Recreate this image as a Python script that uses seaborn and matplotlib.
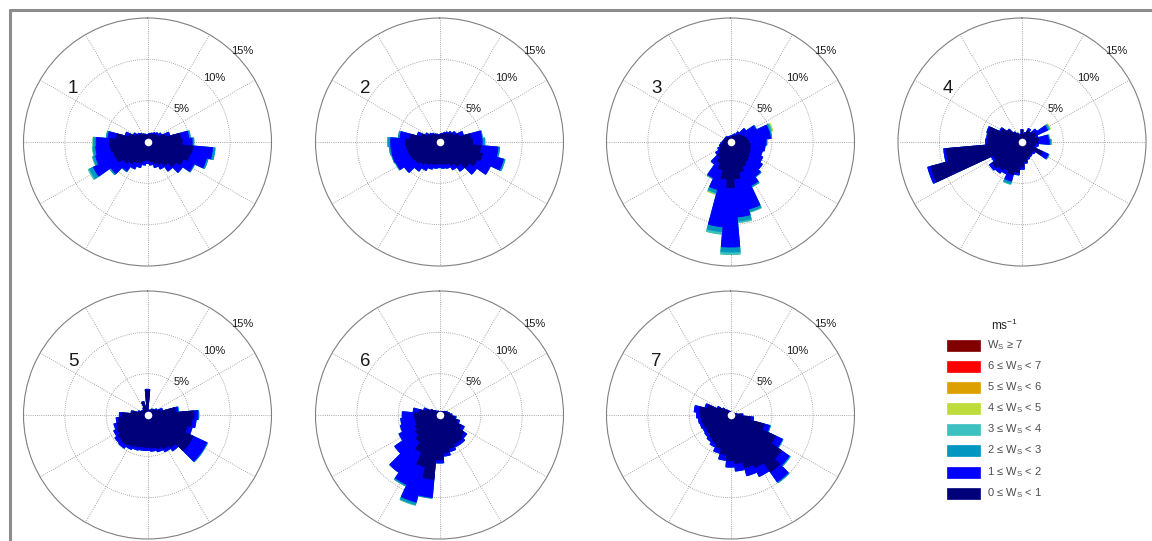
import numpy as np
import matplotlib
matplotlib.use("Agg")
import matplotlib.pyplot as plt
from matplotlib.patches import Rectangle
from matplotlib.lines import Line2D
import seaborn as sns

# ---- data: frequency (%) per 10-degree direction sector, by wind-speed class ----
DIRECTIONS = [0, 10, 20, 30, 40, 50, 60, 70, 80, 90, 100, 110, 120, 130, 140, 150, 160, 170,
              180, 190, 200, 210, 220, 230, 240, 250, 260, 270, 280, 290, 300, 310, 320, 330, 340, 350]

SITE_LABELS = ["1", "2", "3", "4", "5", "6", "7"]

# site 1
S1_B0 = [0.8, 0.9, 1.0, 1.0, 1.2, 1.3, 1.5, 2.2, 4.0, 4.2, 5.5, 5.3, 4.8, 4.2, 3.5, 3.0, 2.7, 2.4,
         2.2, 2.3, 2.6, 2.8, 3.2, 3.6, 4.2, 4.3, 4.5, 4.6, 3.8, 2.3, 1.6, 1.3, 1.1, 1.0, 0.9, 0.8]
S1_B1 = [0.1, 0.1, 0.1, 0.2, 0.2, 0.3, 0.4, 0.6, 1.0, 1.2, 2.4, 2.1, 1.4, 1.0, 0.8, 0.6, 0.5, 0.4,
         0.4, 0.5, 0.6, 0.8, 1.1, 1.8, 3.0, 2.2, 1.8, 1.6, 1.0, 0.5, 0.3, 0.2, 0.2, 0.1, 0.1, 0.1]
S1_B2 = {80: 0.2, 90: 0.2, 100: 0.3, 110: 0.2, 120: 0.1, 220: 0.1, 230: 0.2, 240: 0.5,
         250: 0.3, 260: 0.3, 270: 0.3, 280: 0.2}
S1_B3 = {240: 0.2, 250: 0.1, 260: 0.1, 270: 0.1}
S1_B4 = {}

# site 2
S2_B0 = [0.8, 0.9, 1.0, 1.1, 1.3, 1.5, 1.8, 2.4, 3.8, 4.0, 5.0, 5.4, 5.0, 4.4, 3.6, 3.1, 2.8, 2.7,
         2.6, 2.7, 2.8, 3.0, 3.3, 3.6, 3.8, 3.9, 4.0, 4.1, 3.6, 2.3, 1.6, 1.3, 1.1, 1.0, 0.9, 0.8]
S2_B1 = [0.1, 0.1, 0.1, 0.2, 0.2, 0.3, 0.4, 0.6, 1.3, 1.15, 2.1, 2.6, 1.8, 1.1, 0.7, 0.6, 0.5, 0.5,
         0.5, 0.5, 0.6, 0.8, 1.0, 1.6, 2.0, 2.0, 1.9, 1.8, 1.2, 0.5, 0.3, 0.2, 0.2, 0.1, 0.1, 0.1]
S2_B2 = {80: 0.1, 90: 0.3, 100: 0.2, 110: 0.2, 240: 0.1, 250: 0.1, 260: 0.2, 270: 0.3, 280: 0.2}
S2_B3 = {90: 0.05, 270: 0.1}
S2_B4 = {}

# site 3
S3_B0 = [0.6, 0.6, 0.7, 0.8, 1.0, 1.3, 1.5, 1.8, 2.0, 2.2, 2.4, 2.5, 2.6, 2.8, 3.0, 3.3, 3.8, 4.5,
         5.5, 4.5, 3.5, 2.8, 2.2, 1.7, 1.4, 1.2, 1.0, 0.9, 0.8, 0.7, 0.7, 0.7, 0.7, 0.6, 0.6, 0.6]
S3_B1 = [0.1, 0.2, 0.2, 0.3, 0.5, 1.0, 1.9, 3.0, 2.85, 2.1, 1.8, 1.5, 1.7, 1.9, 2.1, 2.5, 4.6, 4.6,
         7.2, 5.8, 2.45, 2.0, 1.1, 0.5, 0.3, 0.2, 0.2, 0.1, 0.1, 0.1, 0.1, 0.1, 0.1, 0.1, 0.1, 0.1]
S3_B2 = {60: 0.1, 70: 0.2, 80: 0.15, 90: 0.1, 140: 0.1, 150: 0.2, 160: 0.3, 170: 0.5,
         180: 0.6, 190: 0.6, 200: 0.4, 210: 0.1}
S3_B3 = {70: 0.15, 160: 0.1, 170: 0.2, 180: 0.3, 190: 0.3, 200: 0.15}
S3_B4 = {70: 0.15, 200: 0.1}

# site 4
S4_B0 = [1.4, 0.9, 1.1, 1.5, 1.3, 1.7, 1.9, 1.6, 2.0, 1.9, 1.6, 1.5, 2.7, 1.7, 1.7, 1.8, 2.0, 2.4,
         3.0, 3.7, 4.1, 3.8, 4.1, 4.4, 3.8, 11.4, 9.2, 4.2, 4.1, 4.2, 2.8, 2.1, 1.4, 1.1, 0.8, 0.9]
S4_B1 = [0.1, 0.1, 0.1, 0.3, 0.2, 0.5, 1.5, 0.4, 1.2, 1.4, 0.4, 0.3, 0.8, 0.3, 0.2, 0.2, 0.2, 0.2,
         0.3, 0.3, 0.8, 0.5, 0.5, 0.4, 0.3, 0.4, 0.3, 0.2, 0.2, 0.2, 0.2, 0.1, 0.1, 0.1, 0.1, 0.1]
S4_B2 = {60: 0.2, 80: 0.1, 90: 0.2, 120: 0.1, 200: 0.3}
S4_B3 = {60: 0.1, 200: 0.1}
S4_B4 = {60: 0.1, 80: 0.1, 90: 0.1}

# site 5
S5_B0 = [3.0, 0.5, 0.5, 0.6, 0.8, 0.9, 1.1, 1.6, 3.4, 5.6, 5.4, 5.0, 6.1, 6.1, 4.8, 4.5, 4.2, 4.0,
         3.9, 3.9, 4.0, 4.2, 4.4, 4.3, 4.0, 3.8, 3.5, 3.1, 1.8, 1.1, 0.8, 0.7, 0.7, 0.9, 1.6, 0.7]
S5_B1 = [0.1, 0.1, 0.1, 0.1, 0.1, 0.1, 0.2, 0.3, 0.3, 0.5, 0.5, 0.6, 1.8, 1.8, 0.5, 0.4, 0.4, 0.4,
         0.4, 0.4, 0.4, 0.4, 0.5, 0.5, 0.5, 0.4, 0.3, 0.3, 0.2, 0.1, 0.1, 0.1, 0.1, 0.1, 0.1, 0.1]
S5_B2 = {80: 0.1, 90: 0.1, 120: 0.1, 130: 0.1}
S5_B3 = {}
S5_B4 = {}

# site 6
S6_B0 = [0.4, 0.4, 0.4, 0.4, 0.5, 0.6, 0.7, 0.9, 1.1, 1.3, 1.8, 2.2, 2.9, 3.6, 3.9, 3.9, 4.2, 4.6,
         5.4, 7.8, 6.5, 5.0, 4.0, 3.5, 3.2, 3.0, 3.0, 3.0, 2.5, 1.7, 1.1, 0.7, 0.5, 0.4, 0.4, 0.4]
S6_B1 = [0.0, 0.0, 0.0, 0.0, 0.0, 0.0, 0.1, 0.1, 0.1, 0.2, 0.2, 0.3, 0.4, 0.4, 0.4, 0.4, 0.4, 0.4,
         0.4, 2.2, 4.4, 4.3, 4.5, 3.1, 2.2, 1.9, 1.7, 1.5, 0.7, 0.3, 0.1, 0.1, 0.1, 0.1, 0.1, 0.0]
S6_B2 = {190: 0.1, 200: 0.3, 210: 0.2}
S6_B3 = {200: 0.1}
S6_B4 = {}

# site 7
S7_B0 = [0.4, 0.3, 0.3, 0.3, 0.3, 0.3, 0.4, 0.5, 0.7, 1.3, 2.4, 4.2, 6.0, 7.5, 8.4, 7.0, 6.6, 5.9,
         5.5, 4.8, 4.2, 3.8, 3.6, 3.4, 3.3, 3.4, 3.5, 3.6, 3.8, 2.9, 1.6, 1.1, 0.7, 0.5, 0.4, 0.4]
S7_B1 = [0.0, 0.0, 0.0, 0.0, 0.0, 0.0, 0.0, 0.0, 0.1, 0.2, 0.4, 0.7, 0.9, 1.15, 1.45, 1.2, 1.0, 0.9,
         0.8, 0.7, 0.6, 0.5, 0.4, 0.4, 0.4, 0.4, 0.4, 0.5, 0.6, 0.3, 0.2, 0.1, 0.1, 0.1, 0.1, 0.0]
S7_B2 = {110: 0.1, 120: 0.1, 130: 0.15, 140: 0.15}
S7_B3 = {}
S7_B4 = {}

SPEED_LABELS = [r"0 ≤ W$_\mathregular{S}$ < 1", r"1 ≤ W$_\mathregular{S}$ < 2",
                r"2 ≤ W$_\mathregular{S}$ < 3", r"3 ≤ W$_\mathregular{S}$ < 4",
                r"4 ≤ W$_\mathregular{S}$ < 5", r"5 ≤ W$_\mathregular{S}$ < 6",
                r"6 ≤ W$_\mathregular{S}$ < 7", r"W$_\mathregular{S}$ ≥ 7"]
SPEED_COLORS = ["#00007a", "#0000ff", "#0096c0", "#3cc0c0", "#bedc3c", "#dca000", "#ff0000", "#800000"]

RING_VALUES = [5, 10, 15]
R_MAX = 15

# ---- style ----
sns.set_theme(style="white")
plt.rcParams["font.family"] = ["Liberation Sans", "DejaVu Sans"]
plt.rcParams["mathtext.fontset"] = "custom"
plt.rcParams["mathtext.rm"] = "Liberation Sans"
palette = sns.color_palette(SPEED_COLORS)

W, H = 1152, 541
fig = plt.figure(figsize=(W / 100, H / 100), dpi=100)
fig.patch.set_facecolor("white")

RADIUS_PX = 124
COL_X = [147.5, 439.5, 730.5, 1022]
ROW_Y = [142, 415]

sites = [
    (S1_B0, S1_B1, S1_B2, S1_B3, S1_B4),
    (S2_B0, S2_B1, S2_B2, S2_B3, S2_B4),
    (S3_B0, S3_B1, S3_B2, S3_B3, S3_B4),
    (S4_B0, S4_B1, S4_B2, S4_B3, S4_B4),
    (S5_B0, S5_B1, S5_B2, S5_B3, S5_B4),
    (S6_B0, S6_B1, S6_B2, S6_B3, S6_B4),
    (S7_B0, S7_B1, S7_B2, S7_B3, S7_B4),
]

theta = np.deg2rad(DIRECTIONS)
width = np.deg2rad(10)

for i, (b0, b1, b2, b3, b4) in enumerate(sites):
    cx = COL_X[i % 4]
    cy = ROW_Y[i // 4]
    rect = [(cx - RADIUS_PX) / W, (H - cy - RADIUS_PX) / H, 2 * RADIUS_PX / W, 2 * RADIUS_PX / H]
    ax = fig.add_axes(rect, projection="polar")
    ax.set_theta_zero_location("N")
    ax.set_theta_direction(-1)
    ax.set_facecolor("white")
    ax.set_axisbelow(True)

    layers = [np.array(b0, float), np.array(b1, float),
              np.array([b2.get(d, 0.0) for d in DIRECTIONS]),
              np.array([b3.get(d, 0.0) for d in DIRECTIONS]),
              np.array([b4.get(d, 0.0) for d in DIRECTIONS])]
    # nested sectors: cumulative totals, fastest class drawn first, calm class on top
    cumulative = np.cumsum(np.vstack(layers), axis=0)
    for k in range(len(layers) - 1, -1, -1):
        ax.bar(theta, cumulative[k], width=width, bottom=0, color=palette[k],
               edgecolor=palette[k], linewidth=0.7, align="center", zorder=2 + (5 - k) * 0.01)

    ax.scatter([0], [0], s=30, color="white", linewidths=0, zorder=5)

    ax.set_ylim(0, R_MAX)
    ax.set_rgrids([5, 10], labels=["", ""])
    ax.set_thetagrids(range(0, 360, 30), labels=[""] * 12)
    ax.grid(True, color="0.55", linestyle=(0, (1, 1.6)), linewidth=0.6)
    ax.spines["polar"].set_color("0.5")
    ax.spines["polar"].set_linewidth(0.8)

    for val, rr in zip(RING_VALUES, [5.7, 11.2, 15.9]):
        ax.text(np.deg2rad(46), rr, f"{val}%", ha="center", va="center",
                fontsize=8, color="0.1", clip_on=False, zorder=6)
    ax.text(np.deg2rad(306), 11.1, SITE_LABELS[i], ha="center", va="center",
            fontsize=13.5, color="0.1", clip_on=False, zorder=6)

# overlay in pixel coordinates for the frame and the speed legend
ov = fig.add_axes([0, 0, 1, 1], zorder=10)
ov.set_xlim(0, W)
ov.set_ylim(H, 0)
ov.axis("off")
ov.patch.set_alpha(0)

ov.add_line(Line2D([9.5, 9.5], [9.5, H + 5], color="0.55", linewidth=2.2))
ov.add_line(Line2D([9.5, W + 5], [9.5, 9.5], color="0.55", linewidth=2.2))

ov.text(1004, 325, r"ms$^\mathregular{-1}$", ha="center", va="center", fontsize=8.5, color="0.15")
row_y = [493, 472, 450, 429, 408, 387, 366, 345]
for lab, col, yy in zip(SPEED_LABELS, palette, row_y):
    ov.add_patch(Rectangle((947, yy - 5.5), 33, 11, facecolor=col, edgecolor=col, linewidth=0.5))
    ov.text(987, yy, lab, ha="left", va="center", fontsize=8, color="0.3")

fig.savefig("out.png", dpi=100, facecolor="white")
